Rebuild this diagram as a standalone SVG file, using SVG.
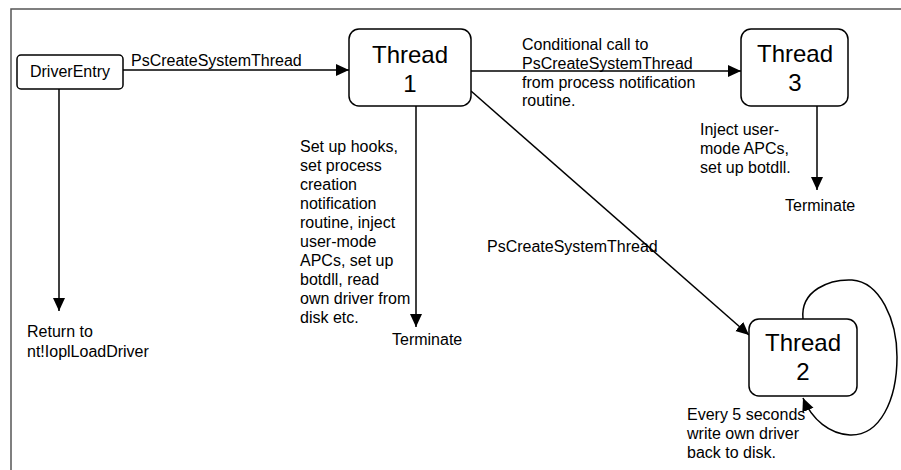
<svg xmlns="http://www.w3.org/2000/svg" width="901" height="470" viewBox="0 0 901 470">
  <defs>
    <marker id="arrow" markerUnits="userSpaceOnUse" markerWidth="14" markerHeight="13" refX="13" refY="6" orient="auto">
      <path d="M0,0 L13,6 L0,12 z" fill="#000"/>
    </marker>
    <style>
      .box { fill: #fff; stroke: #000; stroke-width: 1.5; }
      .edge { fill: none; stroke: #000; stroke-width: 1.5; marker-end: url(#arrow); }
      .lbl { font-family: "Liberation Sans", Arial, sans-serif; font-size: 16px; fill: #000; }
      .big { font-family: "Liberation Sans", Arial, sans-serif; font-size: 24px; fill: #000; text-anchor: middle; }
      .frame { fill: none; stroke: #555; stroke-width: 1.5; }
    </style>
  </defs>
  <rect width="901" height="470" fill="#fff"/>

  <!-- page frame -->
  <path class="frame" d="M11,470 L11,9 L901,9"/>

  <!-- connectors -->
  <g id="connectors">
    <line class="edge" x1="123" y1="70" x2="349" y2="70"/>
    <line class="edge" x1="471" y1="71" x2="741" y2="71"/>
    <line class="edge" x1="59" y1="89" x2="59" y2="311"/>
    <line class="edge" x1="416" y1="106" x2="416" y2="327"/>
    <line class="edge" x1="817" y1="106" x2="817" y2="190"/>
    <line class="edge" x1="471" y1="91" x2="749" y2="335"/>
    <path class="edge" d="M803,319 C800,290 830,279 852,280 C880,282 897,320 897,357 C897,400 880,436 850,435 C830,434 812,420 803,398"/>
  </g>

  <!-- nodes -->
  <g id="driverentry">
    <rect class="box" x="17" y="55" width="106" height="34" rx="4"/>
    <text class="lbl" x="70" y="77" text-anchor="middle">DriverEntry</text>
  </g>
  <g id="thread1">
    <rect class="box" x="349" y="29" width="122" height="77" rx="10"/>
    <text class="big" x="410" y="63">Thread</text>
    <text class="big" x="410" y="92">1</text>
  </g>
  <g id="thread3">
    <rect class="box" x="741" y="29" width="107" height="77" rx="10"/>
    <text class="big" x="795" y="62">Thread</text>
    <text class="big" x="795" y="91">3</text>
  </g>
  <g id="thread2">
    <rect class="box" x="749" y="319" width="108" height="77" rx="10"/>
    <text class="big" x="803" y="351">Thread</text>
    <text class="big" x="803" y="380">2</text>
  </g>

  <!-- labels -->
  <g id="labels">
    <text class="lbl" x="131" y="66">PsCreateSystemThread</text>
    <text class="lbl" x="522">
      <tspan x="522" y="50">Conditional call to</tspan>
      <tspan x="522" y="69">PsCreateSystemThread</tspan>
      <tspan x="522" y="88">from process notification</tspan>
      <tspan x="522" y="106">routine.</tspan>
    </text>
    <text class="lbl">
      <tspan x="27" y="337">Return to</tspan>
      <tspan x="27" y="357">nt!IoplLoadDriver</tspan>
    </text>
    <text class="lbl">
      <tspan x="300" y="152">Set up hooks,</tspan>
      <tspan x="300" y="171">set process</tspan>
      <tspan x="300" y="190">creation</tspan>
      <tspan x="300" y="209">notification</tspan>
      <tspan x="300" y="228">routine, inject</tspan>
      <tspan x="300" y="247">user-mode</tspan>
      <tspan x="300" y="266">APCs, set up</tspan>
      <tspan x="300" y="285">botdll, read</tspan>
      <tspan x="300" y="304">own driver from</tspan>
      <tspan x="300" y="323">disk etc.</tspan>
    </text>
    <text class="lbl" x="392" y="345">Terminate</text>
    <text class="lbl">
      <tspan x="700" y="135">Inject user-</tspan>
      <tspan x="700" y="154">mode APCs,</tspan>
      <tspan x="700" y="173">set up botdll.</tspan>
    </text>
    <text class="lbl" x="785" y="211">Terminate</text>
    <text class="lbl" x="487" y="252">PsCreateSystemThread</text>
    <text class="lbl">
      <tspan x="687" y="420">Every 5 seconds</tspan>
      <tspan x="687" y="439">write own driver</tspan>
      <tspan x="687" y="458">back to disk.</tspan>
    </text>
  </g>
</svg>
